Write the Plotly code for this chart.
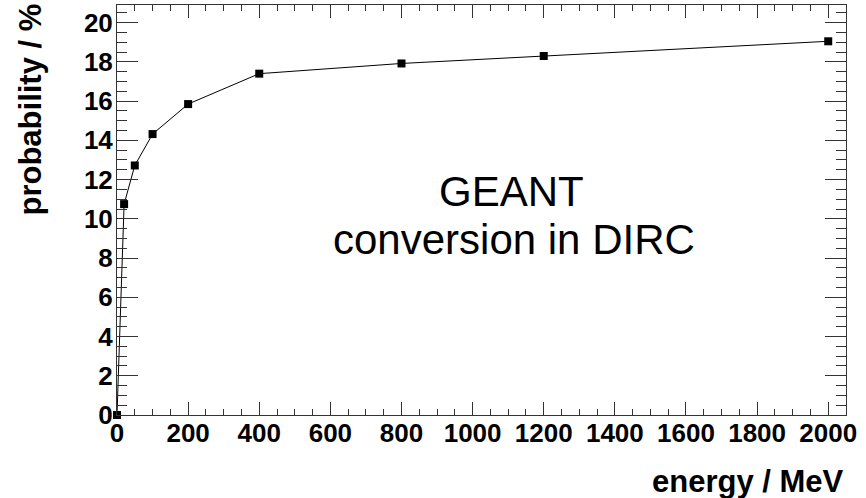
import plotly.graph_objects as go

# Photon conversion probability vs. energy (GEANT simulation)
energy_mev = [0, 20, 50, 100, 200, 400, 800, 1200, 2000]
probability_pct = [0, 10.75, 12.72, 14.32, 15.85, 17.4, 17.92, 18.3, 19.05]

x_tick_vals = [0, 200, 400, 600, 800, 1000, 1200, 1400, 1600, 1800, 2000]
y_tick_vals = [0, 2, 4, 6, 8, 10, 12, 14, 16, 18, 20]

FONT = "Liberation Sans, Arial, Helvetica, sans-serif"
AXIS_COLOR = "#333333"

fig = go.Figure()
fig.add_trace(go.Scatter(
    x=energy_mev,
    y=probability_pct,
    mode="lines+markers",
    line=dict(color="black", width=1),
    marker=dict(symbol="square", size=8, color="black"),
    cliponaxis=False,
    showlegend=False,
))

fig.update_layout(
    width=866,
    height=498,
    margin=dict(l=117, r=20, t=5, b=83),
    paper_bgcolor="white",
    plot_bgcolor="white",
    font=dict(family=FONT, color="black"),
)

fig.update_xaxes(
    range=[0, 2050],
    showgrid=False,
    zeroline=False,
    showline=True,
    linecolor=AXIS_COLOR,
    linewidth=1,
    mirror="allticks",
    ticks="inside",
    ticklen=13,
    tickwidth=1,
    tickcolor=AXIS_COLOR,
    tickvals=x_tick_vals,
    ticktext=[str(v) for v in x_tick_vals],
    ticklabelstandoff=-5,
    tickfont=dict(family=FONT, size=26, color="black", weight="bold"),
    minor=dict(ticks="inside", ticklen=6, dtick=50, tick0=0, tickcolor=AXIS_COLOR, showgrid=False),
)

fig.update_yaxes(
    range=[0, 20.9],
    showgrid=False,
    zeroline=False,
    showline=True,
    linecolor=AXIS_COLOR,
    linewidth=1,
    mirror="allticks",
    ticks="inside",
    ticklen=21,
    tickwidth=1,
    tickcolor=AXIS_COLOR,
    tickvals=y_tick_vals,
    ticktext=[str(v) for v in y_tick_vals],
    ticklabelstandoff=-2,
    tickfont=dict(family=FONT, size=26, color="black", weight="bold"),
    minor=dict(ticks="inside", ticklen=10, dtick=0.5, tick0=0, tickcolor=AXIS_COLOR, showgrid=False),
)

# Axis titles
fig.add_annotation(
    text="energy / MeV", xref="paper", yref="paper",
    x=1.0, y=-0.163, xanchor="right", yanchor="middle",
    showarrow=False,
    font=dict(family=FONT, size=31, color="black", weight="bold"),
)
fig.add_annotation(
    text="probability / %", xref="paper", yref="paper",
    x=-0.118, y=0.745, xanchor="center", yanchor="middle",
    textangle=-90, showarrow=False,
    font=dict(family=FONT, size=31, color="black", weight="bold"),
)

# In-plot label
fig.add_annotation(
    text="GEANT", xref="x", yref="y",
    x=1108, y=11.4, xanchor="center", yanchor="middle",
    showarrow=False,
    font=dict(family=FONT, size=42, color="black"),
)
fig.add_annotation(
    text="conversion in DIRC", xref="x", yref="y",
    x=1117, y=8.95, xanchor="center", yanchor="middle",
    showarrow=False,
    font=dict(family=FONT, size=42, color="black"),
)

fig.write_html("out.html")
